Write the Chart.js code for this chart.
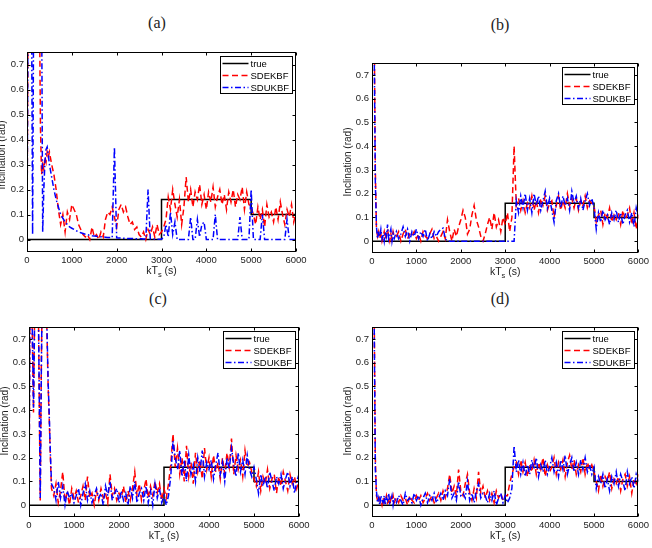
<!DOCTYPE html>
<html>
<head>
<meta charset="utf-8">
<script src="https://cdn.jsdelivr.net/npm/chart.js@4.4.0/dist/chart.umd.min.js"></script>
<style>
  body { margin: 0; background: #fff; }
  #wrap { position: relative; width: 652px; height: 548px; overflow: hidden; }
  canvas { position: absolute; }
  .ttl { position: absolute; transform: translate(-50%, -50%); font: 16px "Liberation Serif", serif; color: #222; white-space: nowrap; }
</style>
</head>
<body>
<div id="wrap">
  <div class="ttl" style="left:157px;top:23px">(a)</div>
  <div class="ttl" style="left:500px;top:25px">(b)</div>
  <div class="ttl" style="left:158px;top:299px">(c)</div>
  <div class="ttl" style="left:500px;top:299px">(d)</div>
  <canvas id="chartA" width="326" height="284" style="left:0;top:0"></canvas>
  <canvas id="chartB" width="326" height="284" style="left:326px;top:0"></canvas>
  <canvas id="chartC" width="326" height="274" style="left:0;top:274px"></canvas>
  <canvas id="chartD" width="326" height="274" style="left:326px;top:274px"></canvas>
</div>
<script>
// time axis (s) shared by the estimates
const kT = [0, 25, 50, 75, 100, 125, 150, 175, 200, 225, 250, 275, 300, 325, 350, 375, 400, 425, 450, 475, 500,
  550, 600, 650, 700, 750, 800, 850, 900, 950, 1000,
  1050, 1100, 1150, 1200, 1250, 1300, 1350, 1400, 1450, 1500,
  1550, 1600, 1650, 1700, 1750, 1800, 1850, 1900, 1950, 2000,
  2050, 2100, 2150, 2200, 2250, 2300, 2350, 2400, 2450, 2500,
  2550, 2600, 2650, 2700, 2750, 2800, 2850, 2900, 2950, 3000,
  3050, 3100, 3150, 3200, 3250, 3300, 3350, 3400, 3450, 3500,
  3550, 3600, 3650, 3700, 3750, 3800, 3850, 3900, 3950, 4000,
  4050, 4100, 4150, 4200, 4250, 4300, 4350, 4400, 4450, 4500,
  4550, 4600, 4650, 4700, 4750, 4800, 4850, 4900, 4950, 5000,
  5050, 5100, 5150, 5200, 5250, 5300, 5350, 5400, 5450, 5500,
  5550, 5600, 5650, 5700, 5750, 5800, 5850, 5900, 5950, 6000];

// true inclination (step profile)
const trueT = [0, 3000, 3000, 5000, 5000, 6000];
const trueV = [0, 0, 0.16, 0.16, 0.1, 0.1];

const xTicks = [0, 1000, 2000, 3000, 4000, 5000, 6000];
const yTicks = [0, 0.1, 0.2, 0.3, 0.4, 0.5, 0.6, 0.7];

// (a)
const ekfA = [0, 1, 1, 1, 1, 1, 1, 1, 1, 1, 1, 1, 0.45, 0.26, 0.3, 0.28, 0.33, 0.31, 0.35, 0.33, 0.35,
  0.3, 0.26, 0.2, 0.12, 0.06, 0.1, 0.03, 0.11, 0.08, 0.14,
  0.12, 0.1, 0.06, 0.04, 0.02, 0.01, 0.02, 0.0, 0.05, 0.01,
  0.02, 0.0, 0.03, 0.01, 0.08, 0.11, 0.1, 0.13, 0.09, 0.05,
  0.12, 0.14, 0.11, 0.13, 0.09, 0.06, 0.07, 0.04, 0.05, 0.02,
  0.01, 0.03, 0.0, 0.04, 0.02, 0.05, 0.01, 0.06, 0.02, 0.03,
  0.05, 0.08, 0.17, 0.12, 0.2, 0.14, 0.09, 0.16, 0.06, 0.13,
  0.25, 0.15, 0.2, 0.13, 0.19, 0.16, 0.22, 0.14, 0.18, 0.12,
  0.19, 0.15, 0.21, 0.13, 0.17, 0.2, 0.14, 0.18, 0.12, 0.19,
  0.15, 0.2, 0.13, 0.18, 0.16, 0.21, 0.12, 0.19, 0.14, 0.13,
  0.1, 0.06, 0.13, 0.08, 0.12, 0.05, 0.14, 0.09, 0.11, 0.07,
  0.13, 0.08, 0.15, 0.1, 0.06, 0.12, 0.09, 0.14, 0.07, 0.11];
const ukfA = [0, 1, 1, 1, 1, 0.02, 1, 1, 1, 1, 1, 1, 1, 1, 0.03, 0.2, 0.31, 0.36, 0.37, 0.34, 0.3,
  0.25, 0.2, 0.16, 0.13, 0.1, 0.085, 0.07, 0.06, 0.05, 0.045,
  0.04, 0.035, 0.03, 0.027, 0.024, 0.021, 0.019, 0.017, 0.015, 0.014,
  0.013, 0.012, 0.011, 0.01, 0.009, 0.008, 0.008, 0.007, 0.37, 0.007,
  0.006, 0.006, 0.005, 0.005, 0.004, 0.004, 0.004, 0.003, 0.003, 0.003,
  0.003, 0.002, 0.002, 0.2, 0.002, 0.002, 0.001, 0.001, 0.001, 0.001,
  0.01, 0.06, 0.01, 0.11, 0.02, 0.07, 0.0, 0.0, 0.0, 0.0,
  0.0, 0.0, 0.09, 0.0, 0.0, 0.08, 0.01, 0.06, 0.07, 0.0,
  0.0, 0.0, 0.0, 0.1, 0.0, 0.0, 0.0, 0.0, 0.0, 0.0,
  0.0, 0.0, 0.0, 0.0, 0.09, 0.0, 0.0, 0.0, 0.0, 0.2,
  0.0, 0.0, 0.0, 0.0, 0.1, 0.0, 0.0, 0.0, 0.0, 0.0,
  0.0, 0.0, 0.0, 0.0, 0.0, 0.08, 0.0, 0.0, 0.0, 0.0];

// (b)
const ekfB = [1, 1, 0.9, 0.3, 0.05, 0.02, 0.04, 0.01, 0.03, 0.0, 0.02, 0.04, 0.01, 0.03, 0.05, 0.02, 0.0, 0.03, 0.01, 0.04, 0.02,
  0.02, 0.04, 0.0, 0.03, 0.05, 0.01, 0.03, 0.02, 0.04, 0.01,
  0.03, 0.0, 0.04, 0.02, 0.01, 0.03, 0.05, 0.01, 0.02, 0.0,
  0.02, 0.04, 0.01, 0.09, 0.04, 0.0, 0.05, 0.02, 0.06, 0.09,
  0.13, 0.1, 0.03, 0.05, 0.11, 0.15, 0.09, 0.06, 0.02, 0.0,
  0.03, 0.07, 0.1, 0.05, 0.12, 0.06, 0.09, 0.04, 0.1, 0.07,
  0.12, 0.04, 0.1, 0.4, 0.15, 0.18, 0.13, 0.17, 0.12, 0.16,
  0.14, 0.19, 0.13, 0.17, 0.12, 0.18, 0.15, 0.19, 0.13, 0.16,
  0.17, 0.1, 0.15, 0.19, 0.13, 0.17, 0.14, 0.2, 0.15, 0.18,
  0.14, 0.18, 0.13, 0.17, 0.15, 0.19, 0.14, 0.17, 0.16, 0.15,
  0.08, 0.11, 0.13, 0.07, 0.12, 0.1, 0.14, 0.08, 0.11, 0.09,
  0.12, 0.07, 0.13, 0.09, 0.11, 0.14, 0.07, 0.12, 0.05, 0.11];
const ukfB = [1, 1, 0.8, 0.25, 0.06, 0.01, 0.04, 0.02, 0.05, 0.01, 0.03, 0.0, 0.04, 0.02, 0.07, 0.01, 0.03, 0.05, 0.0, 0.03, 0.01,
  0.04, 0.01, 0.03, 0.06, 0.02, 0.05, 0.0, 0.04, 0.02, 0.05,
  0.01, 0.04, 0.02, 0.05, 0.0, 0.03, 0.01, 0.04, 0.02, 0.04,
  0.05, 0.055, 0.01, 0.0, 0.0, 0.0, 0.0, 0.0, 0.0, 0.0,
  0.0, 0.0, 0.0, 0.0, 0.0, 0.0, 0.0, 0.0, 0.0, 0.0,
  0.0, 0.0, 0.0, 0.0, 0.0, 0.0, 0.0, 0.0, 0.0, 0.0,
  0.0, 0.0, 0.0, 0.0, 0.17, 0.12, 0.19, 0.14, 0.2, 0.13,
  0.18, 0.12, 0.2, 0.15, 0.19, 0.13, 0.17, 0.21, 0.14, 0.18,
  0.13, 0.08, 0.17, 0.2, 0.14, 0.19, 0.15, 0.18, 0.13, 0.21,
  0.16, 0.19, 0.14, 0.18, 0.13, 0.17, 0.2, 0.15, 0.18, 0.14,
  0.05, 0.12, 0.08, 0.13, 0.09, 0.11, 0.07, 0.12, 0.09, 0.13,
  0.08, 0.12, 0.07, 0.11, 0.13, 0.08, 0.12, 0.06, 0.14, 0.1];

// (c)
const ekfC = [0, 1, 1, 0.7, 0.39, 0.8, 1, 1, 1, 0.5, 0.02, 0.6, 1, 1, 1, 0.95, 0.72, 0.5, 0.36, 0.2, 0.07,
  0.04, 0.09, 0.01, 0.06, 0.14, 0.02, 0.05, 0.0, 0.07, 0.03,
  0.06, 0.01, 0.04, 0.08, 0.02, 0.12, 0.03, 0.05, 0.0, 0.06,
  0.02, 0.07, 0.03, 0.05, 0.01, 0.13, 0.04, 0.07, 0.02, 0.05,
  0.03, 0.08, 0.01, 0.06, 0.02, 0.07, 0.14, 0.04, 0.09, 0.02,
  0.06, 0.11, 0.03, 0.08, 0.04, 0.1, 0.05, 0.09, 0.02, 0.07,
  0.03, 0.09, 0.17, 0.3, 0.16, 0.24, 0.13, 0.2, 0.1, 0.25,
  0.12, 0.18, 0.09, 0.22, 0.14, 0.19, 0.11, 0.24, 0.15, 0.2,
  0.12, 0.21, 0.14, 0.18, 0.11, 0.2, 0.13, 0.22, 0.16, 0.28,
  0.13, 0.21, 0.15, 0.19, 0.12, 0.23, 0.16, 0.18, 0.14, 0.11,
  0.08, 0.14, 0.06, 0.12, 0.09, 0.15, 0.07, 0.11, 0.13, 0.05,
  0.12, 0.08, 0.14, 0.1, 0.06, 0.13, 0.09, 0.12, 0.07, 0.11];
const ukfC = [0, 1, 1, 0.72, 0.41, 0.78, 1, 1, 1, 0.52, 0.03, 0.58, 1, 1, 1, 0.97, 0.74, 0.52, 0.38, 0.22, 0.09,
  0.07, 0.02, 0.1, 0.03, 0.08, 0.0, 0.06, 0.03, 0.05, 0.01,
  0.04, 0.07, 0.0, 0.05, 0.09, 0.02, 0.06, 0.01, 0.04, 0.07,
  0.03, 0.05, 0.0, 0.08, 0.04, 0.1, 0.02, 0.05, 0.07, 0.01,
  0.06, 0.02, 0.05, 0.0, 0.08, 0.03, 0.1, 0.01, 0.05, 0.07,
  0.02, 0.08, 0.01, 0.06, 0.0, 0.09, 0.03, 0.07, 0.01, 0.04,
  0.0, 0.04, 0.12, 0.27, 0.2, 0.15, 0.23, 0.12, 0.19, 0.1,
  0.21, 0.13, 0.17, 0.1, 0.2, 0.14, 0.23, 0.12, 0.18, 0.15,
  0.19, 0.11, 0.17, 0.22, 0.13, 0.18, 0.1, 0.2, 0.15, 0.24,
  0.17, 0.12, 0.22, 0.14, 0.19, 0.13, 0.21, 0.15, 0.12, 0.16,
  0.11, 0.05, 0.13, 0.08, 0.12, 0.07, 0.14, 0.1, 0.06, 0.12,
  0.09, 0.13, 0.07, 0.11, 0.14, 0.08, 0.12, 0.05, 0.1, 0.13];

// (d)
const ekfD = [1, 1, 0.8, 0.2, 0.04, 0.02, 0.01, 0.03, 0.02, 0.0, 0.03, 0.01, 0.02, 0.04, 0.01, 0.02, 0.0, 0.03, 0.02, 0.04, 0.01,
  0.03, 0.01, 0.04, 0.02, 0.03, 0.0, 0.04, 0.02, 0.01, 0.04,
  0.02, 0.04, 0.01, 0.03, 0.05, 0.02, 0.04, 0.01, 0.03, 0.05,
  0.02, 0.06, 0.03, 0.07, 0.13, 0.05, 0.08, 0.04, 0.15, 0.06,
  0.04, 0.09, 0.13, 0.05, 0.02, 0.07, 0.03, 0.14, 0.05, 0.08,
  0.03, 0.06, 0.02, 0.05, 0.01, 0.06, 0.03, 0.05, 0.02, 0.04,
  0.04, 0.09, 0.13, 0.16, 0.18, 0.13, 0.19, 0.14, 0.18, 0.12,
  0.17, 0.14, 0.19, 0.13, 0.18, 0.15, 0.2, 0.12, 0.17, 0.14,
  0.16, 0.2, 0.13, 0.18, 0.15, 0.19, 0.12, 0.18, 0.21, 0.15,
  0.19, 0.13, 0.17, 0.14, 0.2, 0.13, 0.18, 0.15, 0.17, 0.14,
  0.1, 0.06, 0.13, 0.08, 0.12, 0.1, 0.14, 0.07, 0.11, 0.09,
  0.12, 0.06, 0.11, 0.13, 0.08, 0.12, 0.05, 0.11, 0.09, 0.13];
const ukfD = [1, 1, 0.75, 0.15, 0.06, 0.01, 0.03, 0.0, 0.04, 0.02, 0.01, 0.04, 0.0, 0.03, 0.02, 0.05, 0.01, 0.02, 0.04, 0.0, 0.03,
  0.01, 0.04, 0.02, 0.0, 0.05, 0.02, 0.03, 0.01, 0.05, 0.02,
  0.04, 0.0, 0.03, 0.05, 0.01, 0.04, 0.02, 0.05, 0.01, 0.03,
  0.05, 0.02, 0.06, 0.04, 0.11, 0.03, 0.05, 0.02, 0.1, 0.04,
  0.05, 0.03, 0.1, 0.02, 0.05, 0.01, 0.06, 0.09, 0.03, 0.05,
  0.04, 0.01, 0.05, 0.02, 0.06, 0.0, 0.03, 0.05, 0.01, 0.04,
  0.01, 0.03, 0.07, 0.25, 0.14, 0.19, 0.13, 0.18, 0.12, 0.17,
  0.13, 0.19, 0.15, 0.2, 0.12, 0.17, 0.14, 0.19, 0.13, 0.16,
  0.2, 0.14, 0.18, 0.12, 0.19, 0.15, 0.21, 0.13, 0.17, 0.2,
  0.14, 0.18, 0.13, 0.19, 0.15, 0.2, 0.14, 0.17, 0.13, 0.16,
  0.07, 0.12, 0.09, 0.13, 0.07, 0.11, 0.06, 0.12, 0.09, 0.14,
  0.08, 0.13, 0.1, 0.06, 0.14, 0.09, 0.12, 0.07, 0.13, 0.1];

const FONT = '"Liberation Sans", Arial, sans-serif';

function pts(xs, ys) {
  return xs.map(function(x, i) { return { x: x, y: ys[i] }; });
}

// frame, inner ticks, axis titles and boxed legend (Matlab look)
function deco(p) {
  return {
    id: 'deco',
    afterDraw: function(chart) {
      const c = chart.ctx;
      const a = chart.chartArea;
      const xs = chart.scales.x, ys = chart.scales.y;
      const L = Math.round(a.left) + 0.5, R = Math.round(a.right) - 0.5;
      const T = Math.round(a.top) + 0.5, B = Math.round(a.bottom) - 0.5;
      c.save();
      c.strokeStyle = '#000';
      c.lineWidth = 1;
      c.setLineDash([]);
      c.strokeRect(L, T, R - L, B - T);
      c.beginPath();
      xTicks.forEach(function(v) {
        const px = Math.round(xs.getPixelForValue(v)) + 0.5;
        c.moveTo(px, B); c.lineTo(px, B - 3);
        c.moveTo(px, T); c.lineTo(px, T + 3);
      });
      yTicks.forEach(function(v) {
        const py = Math.round(ys.getPixelForValue(v)) + 0.5;
        c.moveTo(L, py); c.lineTo(L + 3, py);
        c.moveTo(R, py); c.lineTo(R - 3, py);
      });
      c.stroke();

      // y title
      c.fillStyle = '#222';
      c.font = '10px ' + FONT;
      c.textAlign = 'center';
      c.textBaseline = 'middle';
      c.save();
      c.translate(p.yTitleX, p.yTitleY);
      c.rotate(-Math.PI / 2);
      c.fillText('Inclination (rad)', 0, 0);
      c.restore();

      // x title with subscript: kT_s (s)
      const big = '10.5px ' + FONT, small = '7.5px ' + FONT;
      c.font = big; const w1 = c.measureText('kT').width; const w3 = c.measureText(' (s)').width;
      c.font = small; const w2 = c.measureText('s').width;
      let x0 = (a.left + a.right) / 2 - (w1 + w2 + w3) / 2;
      c.textAlign = 'left';
      c.textBaseline = 'alphabetic';
      const base = p.xTitleY + 4;
      c.font = big; c.fillText('kT', x0, base);
      c.font = small; c.fillText('s', x0 + w1, base + 3);
      c.font = big; c.fillText(' (s)', x0 + w1 + w2, base);

      // legend box
      const bw = 72, bh = 37;
      const bx = Math.round(a.right) - 4 - bw + 0.5, by = Math.round(a.top) + 4 + 0.5;
      c.fillStyle = '#fff';
      c.fillRect(bx, by, bw, bh);
      c.strokeStyle = '#000';
      c.lineWidth = 1;
      c.strokeRect(bx, by, bw, bh);
      c.font = '9.5px ' + FONT;
      c.textBaseline = 'middle';
      chart.data.datasets.forEach(function(ds, i) {
        const ly = by + 7 + i * 12;
        c.beginPath();
        c.strokeStyle = ds.borderColor;
        c.lineWidth = ds.borderWidth;
        c.setLineDash(ds.borderDash || []);
        c.moveTo(bx + 2, ly); c.lineTo(bx + 28, ly);
        c.stroke();
        c.setLineDash([]);
        c.fillStyle = '#000';
        c.fillText(ds.label, bx + 30, ly + 0.5);
      });
      c.restore();
    }
  };
}

const panels = [
  { id: 'chartA', ekf: ekfA, ukf: ukfA, yW: 27, xH: 32, pad: { left: 0, top: 52, right: 30, bottom: 0 }, yTitleX: 2, yTitleY: 155, xTitleY: 270 },
  { id: 'chartB', ekf: ekfB, ukf: ukfB, yW: 46, xH: 31, pad: { left: 0, top: 63, right: 11, bottom: 0 }, yTitleX: 22, yTitleY: 162, xTitleY: 271 },
  { id: 'chartC', ekf: ekfC, ukf: ukfC, yW: 29, xH: 31, pad: { left: 0, top: 53, right: 27, bottom: 0 }, yTitleX: 5, yTitleY: 147, xTitleY: 261 },
  { id: 'chartD', ekf: ekfD, ukf: ukfD, yW: 46, xH: 31, pad: { left: 0, top: 53, right: 11, bottom: 0 }, yTitleX: 22, yTitleY: 147, xTitleY: 261 }
];

panels.forEach(function(p) {
  const ctx = document.getElementById(p.id);
  new Chart(ctx, {
    type: 'line',
    data: {
      datasets: [
        { label: 'true', data: pts(trueT, trueV), borderColor: '#000000', borderWidth: 1.5, order: 3 },
        { label: 'SDEKBF', data: pts(kT, p.ekf), borderColor: '#ff0000', borderWidth: 1.5, borderDash: [6, 3.5], order: 2 },
        { label: 'SDUKBF', data: pts(kT, p.ukf), borderColor: '#0000ff', borderWidth: 1.5, borderDash: [6, 2.5, 1.5, 2.5], order: 1 }
      ]
    },
    options: {
      responsive: false,
      animation: false,
      events: [],
      elements: { point: { radius: 0 }, line: { tension: 0 } },
      layout: { padding: p.pad },
      plugins: { legend: { display: false }, tooltip: { enabled: false } },
      scales: {
        x: {
          type: 'linear', min: 0, max: 6000,
          grid: { display: false, drawTicks: false }, border: { display: false },
          ticks: { color: '#222', padding: 3, maxRotation: 0, font: { family: FONT, size: 9.5 },
            callback: function(v) { return String(v); } },
          afterBuildTicks: function(s) { s.ticks = xTicks.map(function(v) { return { value: v }; }); },
          afterFit: function(s) { s.height = p.xH; }
        },
        y: {
          type: 'linear', min: -0.05, max: 0.75,
          grid: { display: false, drawTicks: false }, border: { display: false },
          ticks: { color: '#222', padding: 3, font: { family: FONT, size: 9.5 },
            callback: function(v) { return String(v); } },
          afterBuildTicks: function(s) { s.ticks = yTicks.map(function(v) { return { value: v }; }); },
          afterFit: function(s) { s.width = p.yW; }
        }
      }
    },
    plugins: [deco(p)]
  });
});
</script>
</body>
</html>
